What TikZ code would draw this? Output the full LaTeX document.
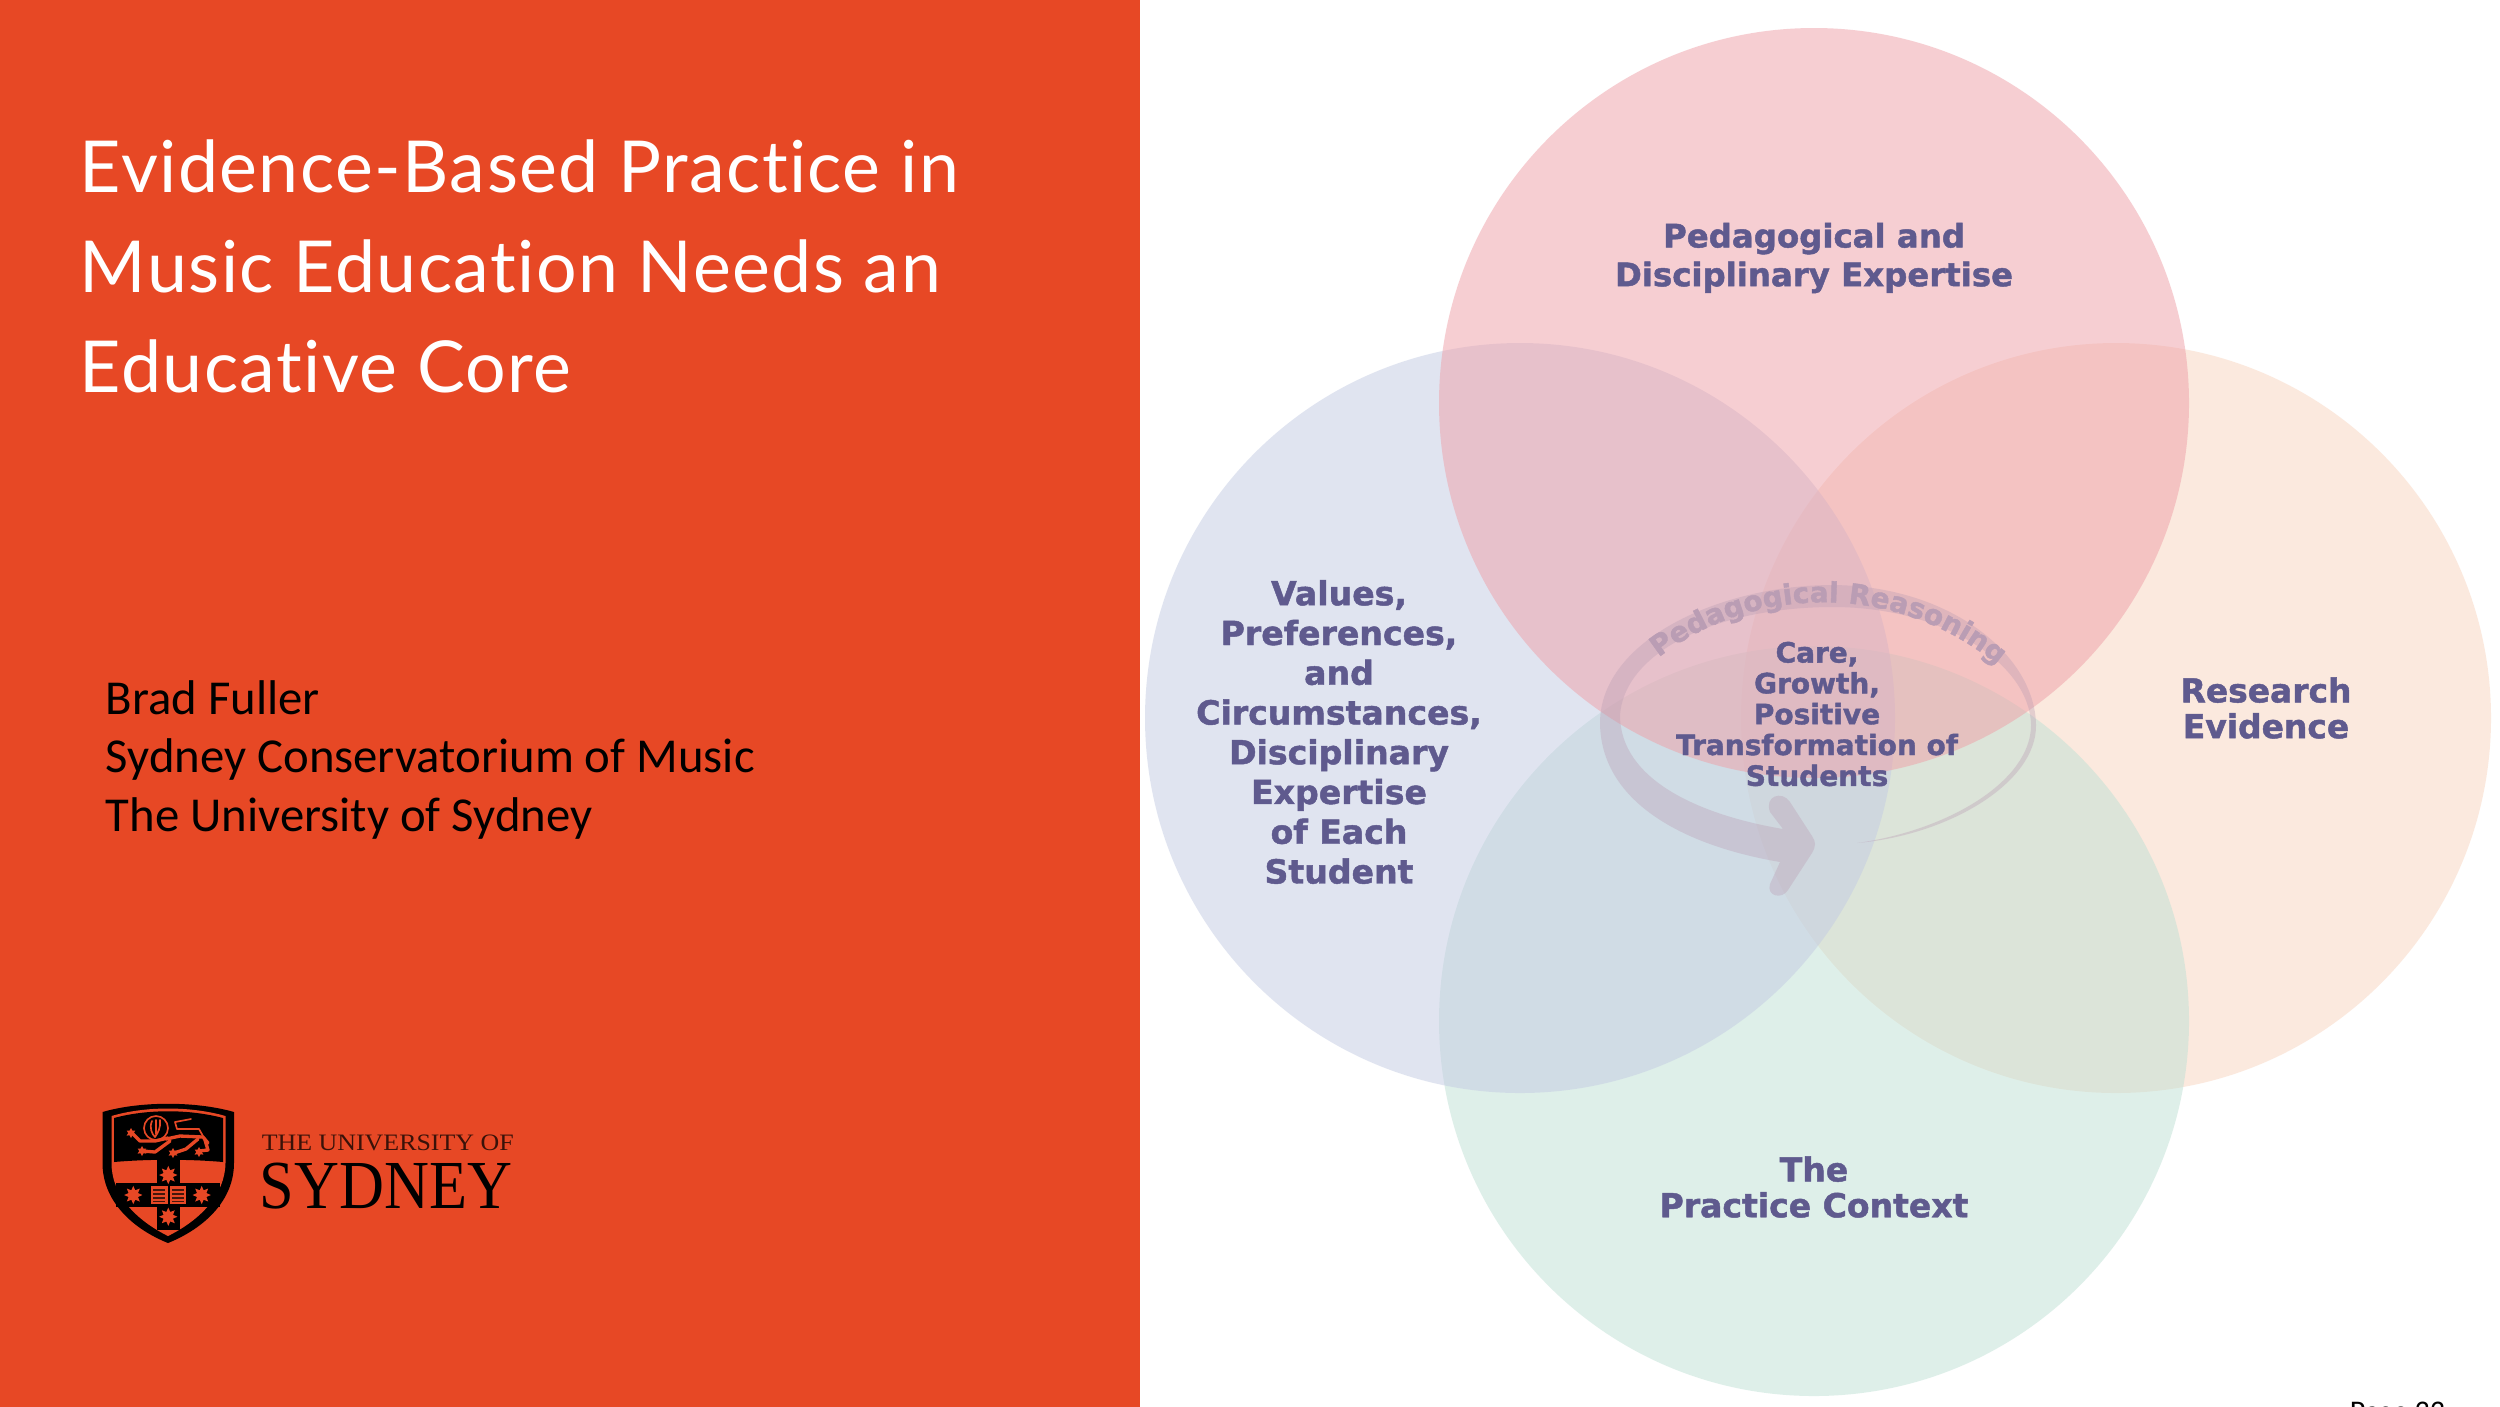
\documentclass[tikz,border=0pt]{standalone}
\usepackage{fontspec}
\setmainfont{Carlito}
\newfontfamily\titlefont{Lato}[LetterSpace=2.0,Ligatures=NoCommon]
\newfontfamily\boldfont{DejaVu Sans}[BoldFeatures={FakeBold=1.4}]
\newfontfamily\ringfont{DejaVu Sans}[BoldFeatures={FakeBold=1.6}]
\newfontfamily\logofont{Liberation Serif}
\usetikzlibrary{decorations.text,shapes.geometric}
\definecolor{panel}{HTML}{E74825}
\definecolor{ink}{HTML}{5F5A8E}
\definecolor{ringink}{HTML}{BA9DB4}
\definecolor{cpink}{HTML}{EF9FA7}
\definecolor{cblue}{HTML}{C3CBE3}
\definecolor{cpeach}{HTML}{F9D5BF}
\definecolor{cgreen}{HTML}{BFE1D5}
\tikzset{
  x=0.24pt,y=-0.24pt,
  venn/.style={font=\boldfont\bfseries\fontsize{#1}{9.6}\selectfont,text=ink,align=center,inner sep=0pt},
  core/.style={font=\boldfont\bfseries\fontsize{6.72}{7.4}\selectfont,text=ink,align=center,inner sep=0pt},
  titleline/.style={font=\titlefont\fontsize{17.2}{20}\selectfont,text=white,anchor=base west,inner sep=0pt},
  bodyline/.style={font=\fontsize{11.7}{14}\selectfont,text=black,anchor=base west,inner sep=0pt},
  estar/.style={star,star points=8,star point ratio=1.8,fill=panel,draw=none,inner sep=0pt,minimum size=4.4pt},
  pawstar/.style={star,star points=6,star point ratio=1.8,fill=panel,draw=none,inner sep=0pt,minimum size=2.4pt},
  lionline/.style={draw=panel,line width=.8pt,line join=round,line cap=round},
  lionthin/.style={draw=panel,line width=.4pt,line join=round,line cap=round},
}
\begin{document}
\begin{tikzpicture}
\useasboundingbox (0,0) rectangle (2500,1406);
\clip (0,0) rectangle (2500,1406);
\fill[white] (0,0) rectangle (2500,1406);
\fill[panel] (0,-5) rectangle (1140,1412);
% Venn circles
\fill[cpeach,opacity=.5] (2116,718) circle[radius=375];
\fill[cgreen,opacity=.5] (1814,1021) circle[radius=375];
\fill[cblue,opacity=.5] (1520,718) circle[radius=375];
\fill[cpink,opacity=.5] (1814,403) circle[radius=375];
% ring with arrow head
\fill[ringink,opacity=.36,line join=round]
  (1857,843) .. controls (1950,835) and (2037,782) .. (2036,725)
  .. controls (2035,655) and (1950,586) .. (1833,585)
  .. controls (1720,585) and (1601,640) .. (1600,722)
  .. controls (1600,800) and (1680,845) .. (1780,862)
  -- (1770,884) .. controls (1766,896) and (1782,900) .. (1788,890)
  -- (1812,853) .. controls (1816,846) and (1816,842) .. (1812,836)
  -- (1790,802) .. controls (1782,790) and (1764,796) .. (1770,812)
  -- (1783,829)
  .. controls (1700,815) and (1620,780) .. (1620,715)
  .. controls (1625,650) and (1720,607) .. (1833,607)
  .. controls (1945,607) and (2030,665) .. (2031,725)
  .. controls (2031,780) and (1950,830) .. (1857,843) -- cycle;
% curved label
\coordinate (arcA) at (1646,668);
\coordinate (arcB) at (2010,676);
\path[decorate,decoration={text along path,text align=center,
  text={|\ringfont\bfseries\fontsize{6.7}{8}\selectfont\color{ringink}|Pedagogical Reasoning}}]
  (arcA) .. controls (1740,584) and (1900,574) .. (arcB);
% labels
\node[venn=7.77] (ntop) at (1814,258) {Pedagogical and\\[-0.3pt]Disciplinary Expertise};
\node[venn=7.95] (nleft) at (1339,732) {Values,\\[-0.06pt]Preferences,\\[-0.06pt]and\\[-0.06pt]Circumstances,\\[-0.06pt]Disciplinary\\[-0.06pt]Expertise\\[-0.06pt]of Each\\[-0.06pt]Student};
\node[venn=7.9] (nright) at (2266,708) {Research\\[-1pt]Evidence};
\node[venn=7.93] (nbottom) at (1814,1187) {The\\[-1pt]Practice Context};
\node[core] (ncore) at (1817,714) {Care,\\Growth,\\Positive\\Transformation of\\Students};
% left panel text
\node[titleline] (t1) at (79,192) {Evidence-Based Practice in};
\node[titleline] (t2) at (79,292) {Music Education Needs an};
\node[titleline] (t3) at (79,392) {Educative Core};
\node[bodyline] (b1) at (105,714) {Brad Fuller};
\node[bodyline] (b2) at (105,772) {Sydney Conservatorium of Music};
\node[bodyline] (b3) at (105,831) {The University of Sydney};
% crest
\fill[black] (102.5,1112) .. controls (140,1101) and (196,1101) .. (234,1112)
  -- (234,1163) .. controls (234,1200) and (205,1228) .. (168,1243)
  .. controls (131,1228) and (102.5,1200) .. (102.5,1163) -- cycle;
\fill[panel] (111.5,1116) .. controls (145,1106) and (191,1106) .. (225.5,1116)
  -- (225.5,1163) .. controls (225,1195) and (200,1220) .. (168,1236)
  .. controls (136,1220) and (111.5,1195) .. (111.5,1163) -- cycle;
\fill[black] (114,1118) .. controls (147,1109) and (189,1109) .. (223,1118)
  -- (223,1162) .. controls (190,1159) and (147,1159) .. (114,1162) -- cycle;
\fill[black] (156.7,1160) rectangle (180,1230);
\fill[black] (116,1183) rectangle (220,1207);
% lion
\draw[lionthin] (156,1128) circle[radius=12];
\draw[lionthin] (152,1121) .. controls (149,1128) and (152,1134) .. (155,1137);
\draw[lionthin] (160,1120) .. controls (161,1127) and (158,1133) .. (155,1137);
\draw[lionthin] (156,1120) -- (156,1134);
\draw[lionline] (132,1133) -- (140,1141) -- (155,1141) -- (168,1138);
\draw[lionline] (143,1151) -- (155,1152) -- (170,1141);
\draw[lionline] (166,1139) -- (180,1136) -- (203,1137) -- (208,1143);
\draw[lionline] (174,1153) -- (186,1149) -- (198,1139);
\draw[lionline] (199,1151) -- (208,1150) -- (205,1140);
\draw[lionthin] (203,1136) -- (199,1129) -- (177,1129) -- (175,1122) -- (191,1119);
\node[pawstar] (paw1) at (131,1133) {};
\node[pawstar] (paw2) at (142,1151) {};
\node[pawstar] (paw3) at (173,1153) {};
\node[pawstar] (paw4) at (199,1152) {};
% stars and book
\foreach \n/\px/\py in {sa/168.3/1175,sb/133.3/1195,sc/201.7/1195,sd/168.3/1216.7}
  \node[estar] (\n) at (\px,\py) {};
\fill[panel] (151,1186) rectangle (186,1204);
\fill[black] (167.5,1186) rectangle (169.5,1204);
\foreach \yy in {1189,1193,1197,1200.5} {\fill[black!70!panel] (153,\yy) rectangle (165,\yy+1.6); \fill[black!70!panel] (172,\yy) rectangle (184,\yy+1.6);}
\node[font=\logofont\fontsize{5.65}{6}\selectfont,text=black!75!panel,anchor=base west,inner sep=0pt,xscale=1.1] (lg1) at (261,1150) {THE UNIVERSITY OF};
\node[font=\logofont\fontsize{16.5}{18}\selectfont,text=black,anchor=base west,inner sep=0pt,xscale=.905] (lg2) at (259,1208) {SYDNEY};
% page number
\node[font=\fontsize{7.2}{8}\selectfont,text=black,anchor=base west,inner sep=0pt] (pg) at (2349,1421) {Page 33};
\end{tikzpicture}
\end{document}
